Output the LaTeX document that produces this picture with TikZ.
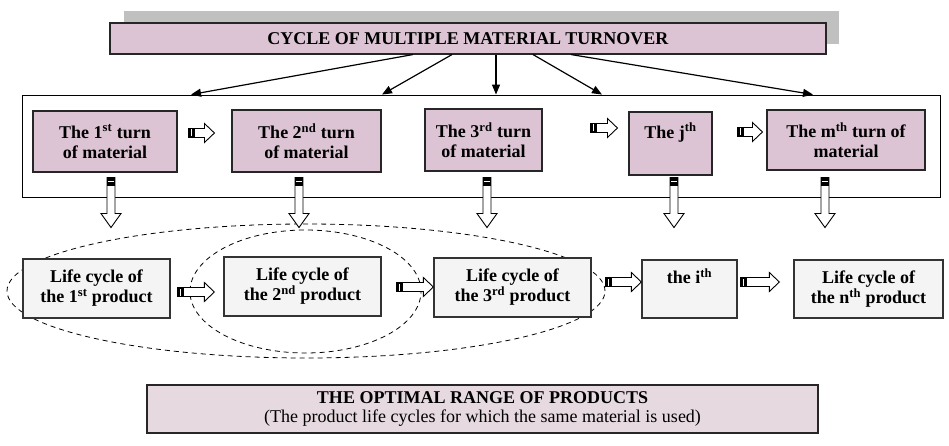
\documentclass[tikz,border=0pt]{standalone}
\usepackage{fontspec}
\setmainfont{Liberation Serif}
\usetikzlibrary{calc,arrows.meta}

\definecolor{turnpink}{HTML}{DCC4D4}
\definecolor{rangepink}{HTML}{E6D9DF}
\definecolor{lifegray}{HTML}{F4F4F4}
\definecolor{shadowgray}{HTML}{C0C0C0}

\tikzset{
  boxfont/.style={font=\bfseries\fontsize{18}{20}\selectfont},
  headbox/.style={draw=black!85, line width=1.1pt, fill=turnpink, inner sep=0pt, boxfont},
  turnbox/.style={draw=black!85, line width=1.1pt, fill=turnpink, align=center, inner sep=0pt, boxfont},
  lifebox/.style={draw=black!80, line width=1.3pt, fill=lifegray, align=center, inner sep=0pt, boxfont},
  rangebox/.style={draw=black!85, line width=1.1pt, fill=rangepink, align=center, inner sep=0pt,
    font=\fontsize{18}{19}\selectfont},
  framebox/.style={draw=black, line width=0.9pt, inner sep=0pt},
  blockarrow/.style={draw=black, line width=0.9pt, fill=white, line join=miter},
  feed/.style={line width=1.2pt, -{Triangle[length=10pt,width=8pt]}},
  ring/.style={draw=black, line width=0.8pt, dash pattern=on 5pt off 4pt},
}

% hollow arrow pointing right, with a dark tail block
\newcommand\blockright[2]{%
  \draw[blockarrow] let \p1=#1, \p2=#2 in
    (\x1,\y1-4.5pt) -- (\x2-10pt,\y1-4.5pt) -- (\x2-10pt,\y1-9.5pt) -- (\x2,\y1)
    -- (\x2-10pt,\y1+9.5pt) -- (\x2-10pt,\y1+4.5pt) -- (\x1,\y1+4.5pt) -- cycle;
  \fill let \p1=#1 in (\x1,\y1-4.5pt) rectangle (\x1+6pt,\y1+4.5pt);
  \draw[white, line width=0.5pt] let \p1=#1 in (\x1+3pt,\y1-3.5pt) -- (\x1+3pt,\y1+3.5pt);
}
% hollow arrow pointing down, with a dark tail block
\newcommand\blockdown[2]{%
  \draw[blockarrow] let \p1=#1, \p2=#2 in
    (\x1-4pt,\y1) -- (\x1-4pt,\y2+14pt) -- (\x1-10pt,\y2+14pt) -- (\x1,\y2)
    -- (\x1+10pt,\y2+14pt) -- (\x1+4pt,\y2+14pt) -- (\x1+4pt,\y1) -- cycle;
  \fill let \p1=#1 in (\x1-4pt,\y1) rectangle (\x1+4pt,\y1-8pt);
  \draw[white, line width=0.6pt] let \p1=#1 in (\x1-3pt,\y1-4pt) -- (\x1+3pt,\y1-4pt);
}

\begin{document}
\begin{tikzpicture}[x=1pt,y=-1pt]
\useasboundingbox (0,0) rectangle (949,446);

% heading with its grey shadow strip
\fill[shadowgray] (124,11) rectangle (839,44);
\node[headbox, minimum width=716pt, minimum height=31pt] (title) at (468,38.5)
  {CYCLE OF MULTIPLE MATERIAL TURNOVER};

% frame around the material turns
\node[framebox, minimum width=918pt, minimum height=102pt] (frame) at (481,146) {};

% heading feeds every turn
\draw[feed] ($(title.south)+(-55,0)$) -- ($(frame.north)+(-290,0)$);
\draw[feed] ($(title.south)+(-16,0)$) -- ($(frame.north)+(-99,0)$);
\draw[feed] ($(title.south)+(28,0)$)  -- ($(frame.north)+(15,0)$);
\draw[feed] ($(title.south)+(65,0)$)  -- ($(frame.north)+(121,0)$);
\draw[feed] ($(title.south)+(103,0)$) -- ($(frame.north)+(332,0)$);

% turns of material
\node[turnbox, minimum width=144pt, minimum height=61pt] (t1) at (105,141.5)
  {The 1\textsuperscript{st} turn\\of material};
\node[turnbox, minimum width=149pt, minimum height=62pt] (t2) at (306.5,141)
  {The 2\textsuperscript{nd} turn\\of material};
\node[turnbox, minimum width=117pt, minimum height=62pt] (t3) at (483.5,140)
  {The 3\textsuperscript{rd} turn\\of material};
\node[turnbox, minimum width=83pt, minimum height=63pt] (tj) at (670.5,143.5)
  {The j\textsuperscript{th}\\\strut};
\node[turnbox, minimum width=158pt, minimum height=60pt] (tm) at (846,140)
  {The m\textsuperscript{th} turn of\\material};

% product life cycles, each ring groups cycles sharing material
\draw[ring] (306,291) ellipse [x radius=299pt, y radius=67pt];
\draw[ring] (305.5,291.5) ellipse [x radius=115.5pt, y radius=61.5pt];

\node[lifebox, minimum width=147pt, minimum height=59pt] (p1) at (96.5,288.5)
  {Life cycle of\\the 1\textsuperscript{st} product};
\node[lifebox, minimum width=157pt, minimum height=59pt] (p2) at (302.5,286.5)
  {Life cycle of\\the 2\textsuperscript{nd} product};
\node[lifebox, minimum width=157pt, minimum height=59pt] (p3) at (512.5,287.5)
  {Life cycle of\\the 3\textsuperscript{rd} product};
\node[lifebox, minimum width=95pt, minimum height=58pt] (pi) at (689.5,289)
  {the i\textsuperscript{th}\\\strut};
\node[lifebox, minimum width=149pt, minimum height=58pt] (pn) at (868.5,289)
  {Life cycle of\\the n\textsuperscript{th} product};

% sequence along the turns
\blockright{($(t1.east)+(11,-8.5)$)}{($(t2.west)+(-17,-8.5)$)}
\blockright{($(t3.east)+(48,-12)$)}{($(tj.west)+(-11,-12)$)}
\blockright{($(tj.east)+(25,-11.5)$)}{($(tm.west)+(-4,-11.5)$)}

% each turn passes into a product life cycle
\blockdown{($(t1.south)+(6,5)$)}{($(t1.south)+(6,55)$)}
\blockdown{($(t2.south)+(-7.5,5)$)}{($(t2.south)+(-7.5,55)$)}
\blockdown{($(t3.south)+(3.5,6)$)}{($(t3.south)+(3.5,56)$)}
\blockdown{($(tj.south)+(3.5,2)$)}{($(tj.south)+(3.5,52)$)}
\blockdown{($(tm.south)+(-21,7)$)}{($(tm.south)+(-21,57)$)}

% sequence along the products
\blockright{($(p1.east)+(7,3.5)$)}{($(p2.west)+(-9,3.5)$)}
\blockright{($(p2.east)+(15,0.5)$)}{($(p3.west)+(0,0.5)$)}
\blockright{($(p3.east)+(14,-5.5)$)}{($(pi.west)+(0,-5.5)$)}
\blockright{($(pi.east)+(3,-7)$)}{($(pn.west)+(-14,-7)$)}

% summary
\node[rangebox, minimum width=671pt, minimum height=48pt] (range) at (482.5,409)
  {\textbf{THE OPTIMAL RANGE OF PRODUCTS}\\
   (The product life cycles for which the same material is used)};
\end{tikzpicture}
\end{document}
